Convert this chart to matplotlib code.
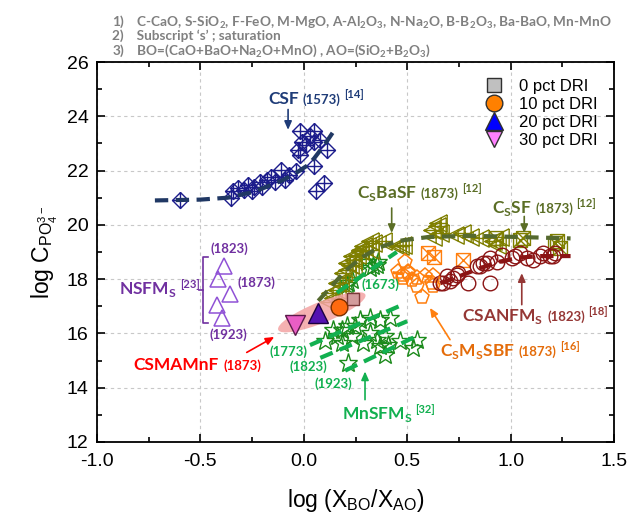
import matplotlib
matplotlib.use('Agg')
import matplotlib.pyplot as plt
import matplotlib.transforms as mtransforms
from matplotlib.path import Path
from matplotlib.patches import Ellipse
from matplotlib.lines import Line2D

plt.rcParams['font.family'] = ['Liberation Sans', 'DejaVu Sans']
plt.rcParams['mathtext.fontset'] = 'custom'
plt.rcParams['mathtext.rm'] = 'Lato'
plt.rcParams['mathtext.bf'] = 'Lato:bold'
plt.rcParams['mathtext.sf'] = 'Liberation Sans'

W, H = 637, 519
LAB_FONT = 'Lato'

# ---- data ----
csf_x = [-0.60, -0.35, -0.34, -0.32, -0.29, -0.27, -0.25, -0.24, -0.21, -0.20,
         -0.18, -0.16, -0.14, -0.11, -0.09, -0.07, -0.04, -0.02, -0.01, -0.03,
         -0.02, 0.01, 0.03, 0.05, 0.05, 0.08, 0.11, 0.05, 0.10, 0.06]
csf_y = [20.93, 20.99, 21.23, 21.36, 21.30, 21.48, 21.23, 21.41, 21.59, 21.41,
         21.66, 21.78, 21.59, 22.02, 21.66, 21.84, 21.97, 23.44, 23.07, 22.77,
         22.58, 22.95, 23.26, 23.44, 23.07, 23.13, 22.77, 22.16, 21.54, 21.23]
csf_fit_x = [-0.72, -0.50, -0.37, -0.25, -0.18, -0.10, -0.04, 0.02, 0.05, 0.10, 0.14]
csf_fit_y = [20.90, 20.93, 21.00, 21.20, 21.40, 21.65, 21.90, 22.20, 22.45, 22.95, 23.40]

nsfm_x = [-0.386, -0.413, -0.357, -0.421, -0.397]
nsfm_y = [18.47, 18.00, 17.46, 17.06, 16.57]

mn_x = [0.304, 0.336, 0.360, 0.207, 0.232, 0.320, 0.352, 0.215,
        0.103, 0.159, 0.183, 0.207, 0.183, 0.232, 0.272, 0.248, 0.320, 0.368,
        0.417, 0.320, 0.352, 0.393, 0.409, 0.368, 0.393, 0.465, 0.546, 0.530,
        0.215, 0.288, 0.143]
mn_y = [18.65, 18.47, 18.65, 17.79, 17.98, 18.41, 18.53, 17.86,
        15.71, 15.89, 16.14, 16.26, 15.65, 15.89, 16.50, 16.26, 16.57, 16.50,
        16.57, 16.01, 15.77, 15.89, 15.58, 15.52, 15.22, 15.71, 15.77, 15.46,
        14.91, 15.65, 16.14]
mn1673_x = [0.16, 0.45]
mn1673_y = [17.50, 19.00]
mn1773_x = [0.03, 0.46]
mn1773_y = [15.57, 17.00]
mn1823_x = [0.08, 0.50]
mn1823_y = [15.10, 16.45]
mn1923_x = [0.20, 0.55]
mn1923_y = [14.63, 15.92]

ba_x = [0.120, 0.127, 0.143, 0.159, 0.159, 0.175, 0.191, 0.207, 0.207, 0.223,
        0.232, 0.239, 0.240, 0.256, 0.272, 0.272, 0.288, 0.320, 0.320, 0.336,
        0.384, 0.449, 0.465, 0.481, 0.618, 0.626, 0.643, 0.651, 0.659, 0.731,
        0.764, 0.804, 0.852, 0.916, 0.933, 0.949]
ba_y = [17.15, 17.49, 17.30, 17.61, 17.86, 17.86, 18.23, 18.35, 18.59, 18.53,
        18.84, 18.72, 18.47, 18.90, 19.09, 19.02, 19.21, 19.09, 19.39, 19.33,
        19.39, 19.21, 19.21, 19.27, 19.82, 19.57, 19.94, 20.07, 19.70, 19.64,
        19.70, 19.57, 19.51, 19.39, 19.27, 19.57]
ba_fit_x = [0.07, 0.13, 0.20, 0.28, 0.36, 0.45, 0.60, 0.80, 1.05, 1.29]
ba_fit_y = [17.20, 17.70, 18.30, 18.80, 19.15, 19.40, 19.55, 19.60, 19.55, 19.50]

ss_x = [0.930, 1.045, 1.062, 1.215, 1.239, 1.223]
ss_y = [19.50, 19.45, 19.51, 19.33, 19.15, 19.40]

sbf_x = [0.457, 0.481, 0.481, 0.489, 0.505, 0.505, 0.522, 0.546, 0.546, 0.570,
         0.586, 0.618, 0.626, 0.626]
sbf_y = [18.28, 18.04, 18.16, 18.65, 18.22, 18.28, 17.98, 18.04, 17.73, 17.36,
         18.10, 17.86, 18.10, 17.73]
sbf2_x = [0.60, 0.63, 0.77]
sbf2_y = [18.95, 18.80, 18.72]
sbf_fit_x = [0.43, 0.66]
sbf_fit_y = [18.24, 18.05]

an_x = [0.659, 0.675, 0.691, 0.707, 0.723, 0.739, 0.748, 0.796, 0.836, 0.852,
        0.868, 0.884, 0.900, 0.900, 0.933, 0.957, 1.005, 1.021, 1.045, 1.077,
        1.110, 1.142, 1.158, 1.190, 1.207, 1.215]
an_y = [17.86, 17.86, 18.10, 17.92, 18.04, 18.16, 18.22, 17.86, 18.47, 18.47,
        18.59, 18.59, 18.78, 17.86, 18.65, 18.90, 18.78, 18.84, 18.96, 18.78,
        18.72, 18.84, 18.96, 18.84, 18.84, 18.96]
an_fit_x = [0.66, 0.75, 0.85, 0.95, 1.05, 1.15, 1.29]
an_fit_y = [17.85, 18.10, 18.40, 18.65, 18.80, 18.85, 18.85]

dri_labels = ['0 pct DRI', '10 pct DRI', '20 pct DRI', '30 pct DRI']
dri_x = [0.236, 0.172, 0.070, -0.043]
dri_y = [17.27, 16.99, 16.75, 16.32]

# ---- marker shapes ----
def mk(segs):
    verts, codes = [], []
    for seg in segs:
        verts += seg
        codes += [Path.MOVETO] + [Path.LINETO] * (len(seg) - 1)
    return Path(verts, codes)

diamond_cross = mk([[(0, 1), (1, 0), (0, -1), (-1, 0), (0, 1)],
                    [(-1, 0), (1, 0)], [(0, -1), (0, 1)]])
tri_cross = mk([[(1, 1), (-1, 0), (1, -1), (1, 1)],
                [(-1, 0), (1, 0)], [(0.3, -0.65), (0.3, 0.65)]])
hourglass = mk([[(-1, 1), (1, 1), (-1, -1), (1, -1), (-1, 1)],
                [(-1, 1), (-1, -1)], [(1, 1), (1, -1)]])

fig = plt.figure(figsize=(W / 100, H / 100), dpi=100)
ax = fig.add_axes([97 / W, 77 / H, 517 / W, 380 / H])

def open_pts(x, y, marker, ms, color, mew=1.0, z=3):
    ax.plot(x, y, ls='none', marker=marker, ms=ms, mfc='none', mec=color, mew=mew, zorder=z)

def fit(x, y, color, lw=3.0):
    ax.plot(x, y, color=color, lw=lw, dashes=(3.2, 1.8), zorder=4, solid_capstyle='butt')

navy = '#1c1c8c'
olive = '#7f7f00'
olive_d = '#55692f'
green_m = '#1b8a1b'
green_l = '#12b050'
orange = '#ff7f0e'
dred = '#8b1414'
purple = '#7030a0'

open_pts(csf_x, csf_y, diamond_cross, 11.5, navy)
fit(csf_fit_x, csf_fit_y, '#203864')

open_pts(nsfm_x, nsfm_y, '^', 12, '#9052d6', mew=1.1)

open_pts(mn_x, mn_y, '*', 14, green_m)
for xs, ys in [(mn1673_x, mn1673_y), (mn1773_x, mn1773_y),
               (mn1823_x, mn1823_y), (mn1923_x, mn1923_y)]:
    fit(xs, ys, green_l)

open_pts(ba_x, ba_y, tri_cross, 12.5, olive)
open_pts(ss_x, ss_y, hourglass, 10, olive)
fit(ba_fit_x, ba_fit_y, olive_d)

open_pts(sbf_x, sbf_y, 'p', 11, orange, mew=1.1)
open_pts(sbf2_x, sbf2_y, hourglass, 10, orange)
fit(sbf_fit_x, sbf_fit_y, orange, lw=2.2)

open_pts(an_x, an_y, 'o', 10.5, dred)
fit(an_fit_x, an_fit_y, dred)

# highlighted ellipse for this work
trans = fig.dpi_scale_trans + mtransforms.ScaledTranslation(0.087, 16.78, ax.transData)
ax.add_patch(Ellipse((0, 0), 0.94, 0.21, angle=22, transform=trans,
                     facecolor='#f4a4a4', edgecolor='none', alpha=0.85, zorder=5))

dri_style = [('s', 9, '#d39c9c', '#7a3a3a'), ('o', 12, '#ff6a10', '#7a3000'),
             ('^', 15, '#5512b2', '#1a0040'), ('v', 14, '#ea5ec4', '#5a1a4a')]
for i, (m, ms, fc, ec) in enumerate(dri_style):
    ax.plot(dri_x[i], dri_y[i], ls='none', marker=m, ms=ms, mfc=fc, mec=ec, mew=1.0, zorder=6)

# legend
leg_style = [('s', 10, '#c0c0c0'), ('o', 12, '#ff8000'), ('^', 13, '#0000ff'), ('v', 12, '#ff80ff')]
handles = [Line2D([], [], ls='none', marker=m, ms=ms, mfc=fc, mec='#303030', mew=1.0)
           for m, ms, fc in leg_style]
ax.legend(handles, dri_labels, loc='upper left', bbox_to_anchor=(486 / W, 1 - 79 / H),
          bbox_transform=fig.transFigure, frameon=False, fontsize=12,
          handlelength=1.0, handletextpad=1.0, labelspacing=0.18, borderpad=0,
          borderaxespad=0)

# axes
ax.set_xlim(-1.0, 1.5)
ax.set_ylim(12, 26)
ax.set_xticks([-1.0, -0.5, 0.0, 0.5, 1.0, 1.5])
ax.set_xticks([-0.75, -0.25, 0.25, 0.75, 1.25], minor=True)
ax.set_yticks(range(12, 27, 2))
ax.set_yticks(range(13, 26, 2), minor=True)
ax.xaxis.set_major_formatter(matplotlib.ticker.FormatStrFormatter('%.1f'))
ax.tick_params(which='both', direction='in', top=True, right=True, labelsize=14, width=1.2)
ax.tick_params(which='major', length=6)
ax.tick_params(which='minor', length=3.5)
ax.tick_params(axis='x', pad=8)
ax.tick_params(axis='y', pad=6)
for s in ax.spines.values():
    s.set_linewidth(1.3)
ax.grid(True, which='major', color='#c8c8c8', lw=0.8, dashes=(3, 3))
ax.set_axisbelow(True)
ax.set_xlabel(r'log (X$_\mathsf{BO}$/X$_\mathsf{AO}$)', fontsize=16.5, labelpad=12)
ax.set_ylabel(r'log C$_{\mathsf{PO}_\mathsf{4}^\mathsf{3-}}$', fontsize=16.5, labelpad=5)

renderer = fig.canvas.get_renderer()

def label(px, py, parts, color):
    # parts: (text, size, raise_px, gap_px); placed left to right on a common baseline
    x = px
    for s, size, rise, gap in parts:
        x += gap
        t = fig.text(x / W, 1 - (py - rise) / H, s, fontsize=size, color=color,
                     fontweight='bold', family=LAB_FONT, va='baseline', ha='left')
        x = t.get_window_extent(renderer).x1

def small(px, py, s, color, size=9.5):
    fig.text(px / W, 1 - py / H, s, fontsize=size, color=color, fontweight='bold',
             family=LAB_FONT, va='center', ha='center')

def arrow(x0, y0, x1, y1, color):
    ax.annotate('', xy=(x1, y1), xytext=(x0, y0),
                arrowprops=dict(arrowstyle='-|>,head_length=0.5,head_width=0.22',
                                color=color, lw=1.2, shrinkA=0, shrinkB=0), zorder=7)

label(268, 104, [('CSF', 12.5, 0, 0), ('(1573)', 9.5, 0, 4), ('[14]', 8, 6, 3)], '#1f3c78')
arrow(-0.076, 24.25, -0.076, 23.5, '#1f3c78')

label(119, 294, [(r'NSFM$_\mathbf{S}$', 12.5, 0, 0), ('[23]', 8, 6, 3)], purple)
small(229, 249, '(1823)', purple)
small(256, 283, '(1873)', purple)
small(228, 335, '(1923)', purple)
bx = 203
ax.plot([(bx + 5 - 97) / 206.8 - 1, (bx - 97) / 206.8 - 1, (bx - 97) / 206.8 - 1, (bx + 5 - 97) / 206.8 - 1],
        [18.8, 18.8, 16.4, 16.4], color=purple, lw=1.2, transform=ax.transData, clip_on=False)
ax.plot([(bx - 97) / 206.8 - 1, (bx - 4 - 97) / 206.8 - 1], [17.6, 17.6], color=purple, lw=1.2)

label(133, 370, [('CSMAMnF', 12.5, 0, 0), ('(1873)', 9.5, 0, 5)], '#ff0000')
arrow(-0.276, 15.30, -0.143, 15.87, '#ff0000')

small(288, 352, '(1773)', green_l)
small(308, 367, '(1823)', green_l)
small(333, 384, '(1923)', green_l)
small(380, 285, '(1673)', green_l)
label(342, 419, [(r'MnSFM$_\mathbf{S}$', 12.5, 0, 0), ('[32]', 8, 6, 3)], green_l)
arrow(0.296, 13.56, 0.296, 14.6, green_l)

label(440, 356, [(r'C$_\mathbf{S}$M$_\mathbf{S}$SBF', 12.5, 0, 0), ('(1873)', 9.5, 0, 4),
                 ('[16]', 8, 6, 3)], '#e46c0a')
arrow(0.707, 15.77, 0.610, 16.94, orange)

label(462, 321, [(r'CSANFM$_\mathbf{S}$', 12.5, 0, 0), ('(1823)', 9.5, 0, 4), ('[18]', 8, 6, 3)], '#953735')
arrow(1.054, 17.06, 1.054, 18.22, '#953735')

label(492, 213, [(r'C$_\mathbf{S}$SF', 12.5, 0, 0), ('(1873)', 9.5, 0, 4), ('[12]', 8, 6, 3)], '#5b6e26')
arrow(1.066, 20.31, 1.066, 19.70, '#5b6e26')

label(357, 198, [(r'C$_\mathbf{S}$BaSF', 12.5, 0, 0), ('(1873)', 9.5, 0, 4), ('[12]', 8, 6, 3)], '#5b6e26')
arrow(0.425, 20.62, 0.425, 19.70, '#5b6e26')

# header notes, one text block so the lines share one layout
gray = '#808080'
notes = ('1)    C-CaO, S-SiO$_\\mathbf{2}$, F-FeO, M-MgO, A-Al$_\\mathbf{2}$O$_\\mathbf{3}$, '
         'N-Na$_\\mathbf{2}$O, B-B$_\\mathbf{2}$O$_\\mathbf{3}$, Ba-BaO, Mn-MnO\n'
         '2)    Subscript \u2018s\u2019 ; saturation\n'
         '3)    BO=(CaO+BaO+Na$_\\mathbf{2}$O+MnO) , AO=(SiO$_\\mathbf{2}$+B$_\\mathbf{2}$O$_\\mathbf{3}$)')
fig.text(112 / W, 1 - 13 / H, notes, fontsize=9.8, color=gray, fontweight='bold',
         family=LAB_FONT, va='top', ha='left', linespacing=0.97)

fig.savefig('out.png', dpi=100)
